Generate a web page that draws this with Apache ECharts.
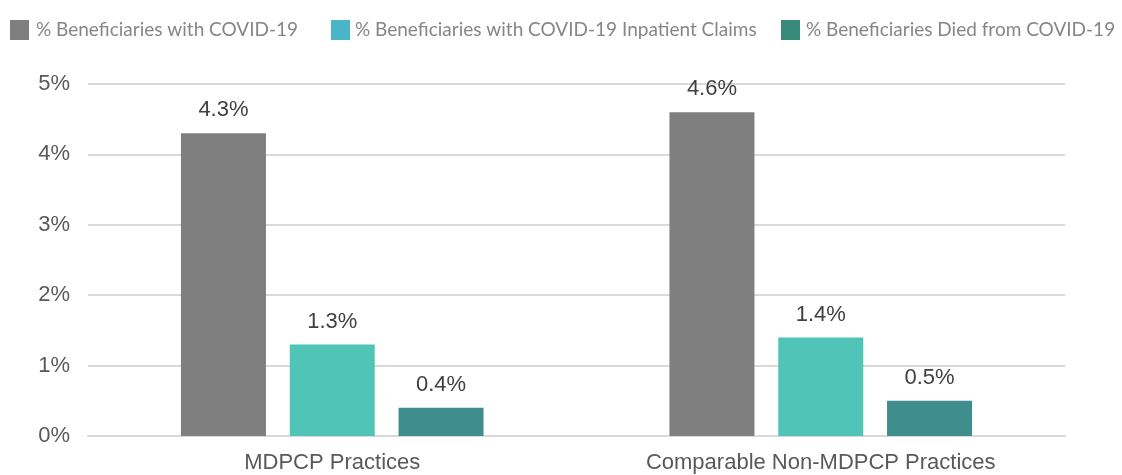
<!DOCTYPE html>
<html><head><meta charset="utf-8">
<script src="https://cdn.jsdelivr.net/npm/echarts@6/dist/echarts.min.js"></script>
<style>html,body{margin:0;padding:0;background:#fff}#c{width:1122px;height:475px}</style>
</head><body><div id="c"></div>
<script>
const categories = ['MDPCP Practices', 'Comparable Non-MDPCP Practices'];
const seriesNames = ['% Beneficiaries with COVID-19', '% Beneficiaries with COVID-19 Inpatient Claims', '% Beneficiaries Died from COVID-19'];
const withCovid = [4.3, 4.6];
const inpatient = [1.3, 1.4];
const died = [0.4, 0.5];
const yTicks = [0, 1, 2, 3, 4, 5];

const barColors = ['#7f7f7f', '#51c4b8', '#408d8e'];
const legendColors = ['#7f7f7f', '#4ab5c6', '#388a7b'];
const legendLefts = [5, 326, 776];
const legendPad = [2, 0, 1];
const values = [withCovid, inpatient, died];

const chart = echarts.init(document.getElementById('c'), null, {renderer: 'canvas'});
const labelFont = 'Arial, "Liberation Sans", sans-serif';
chart.setOption({
  animation: false,
  legend: seriesNames.map((n, i) => ({
    left: legendLefts[i], top: 15,
    itemWidth: 19, itemHeight: 20, icon: 'rect',
    data: [{name: n, itemStyle: {color: legendColors[i]}}],
    textStyle: {fontFamily: 'Lato, sans-serif', fontSize: 19, color: '#868686', padding: [0, 0, 0, legendPad[i]]}
  })),
  grid: {left: 88, right: 57, top: 84, bottom: 39},
  xAxis: {
    type: 'category', data: categories,
    axisLine: {show: true, lineStyle: {color: '#d9d9d9', width: 2}},
    axisTick: {show: false},
    axisLabel: {fontFamily: labelFont, fontSize: 22, color: '#595959', margin: 16}
  },
  yAxis: {
    type: 'value', min: yTicks[0], max: yTicks[yTicks.length - 1], interval: 1,
    axisLine: {show: false}, axisTick: {show: false},
    axisLabel: {formatter: '{value}%', fontFamily: labelFont, fontSize: 22, color: '#595959', margin: 18},
    splitLine: {lineStyle: {color: '#d9d9d9', width: 2}}
  },
  series: seriesNames.map((n, i) => ({
    name: n, type: 'bar', data: values[i],
    barWidth: 85, barGap: '28%',
    itemStyle: {color: barColors[i]},
    label: {show: true, position: 'top', distance: 12,
      formatter: p => p.value.toFixed(1) + '%',
      fontFamily: labelFont, fontSize: 22, color: '#404040'}
  }))
});
</script></body></html>
